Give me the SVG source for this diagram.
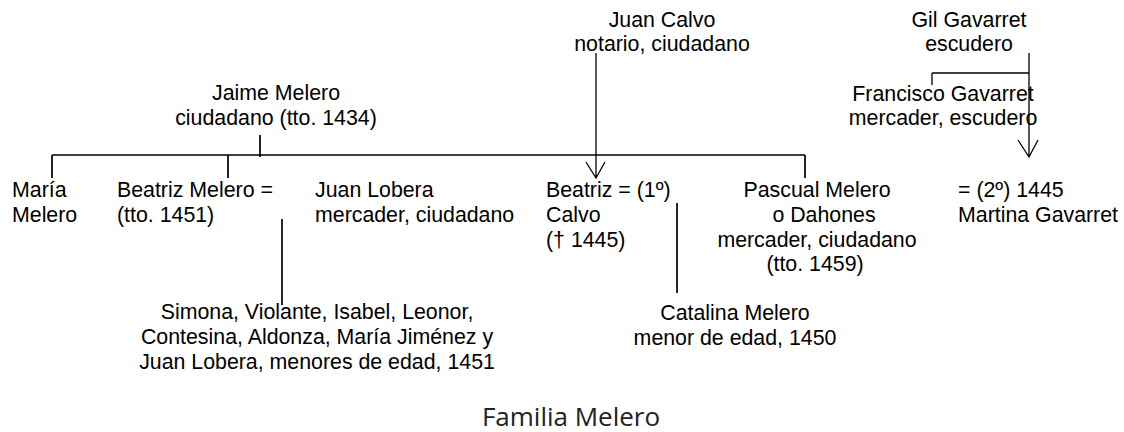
<svg xmlns="http://www.w3.org/2000/svg" width="1124" height="432" viewBox="0 0 1124 432">
<style>
text{font-family:"Liberation Sans",Arial,sans-serif;font-size:21.33px;fill:#000}
.c{text-anchor:middle}
.ln{stroke:#000;stroke-width:1.7;fill:none}
.ar{stroke:#000;stroke-width:1.3;fill:none}
.title{font-family:"Open Sans","Liberation Sans",sans-serif;font-size:26px;fill:#222}
</style>
<rect width="1124" height="432" fill="#fff"/>
<g id="connectors">
<path class="ln" d="M260 135V157M52 155H805M52 155V178M228 155V178M805 155V178"/>
<path class="ln" d="M282 219V305M677 203V293"/>
<path class="ar" d="M596 53V178M586 162L596 178L605 162"/>
<path class="ar" d="M1029 53V157M1018 140L1029 157L1038 140M932 73H1029M932 73V85"/>
</g>
<g id="jaime"><text class="c" x="276" y="100">Jaime Melero</text><text class="c" x="276" y="125">ciudadano (tto. 1434)</text></g>
<g id="juan-calvo"><text class="c" x="662" y="27">Juan Calvo</text><text class="c" x="662" y="51">notario, ciudadano</text></g>
<g id="gil"><text class="c" x="969" y="27">Gil Gavarret</text><text class="c" x="969" y="51">escudero</text></g>
<g id="francisco"><text class="c" x="943" y="101">Francisco Gavarret</text><text class="c" x="943" y="125">mercader, escudero</text></g>
<g id="maria"><text x="12" y="197">María</text><text x="12" y="222">Melero</text></g>
<g id="beatriz-melero"><text x="117" y="197">Beatriz Melero =</text><text x="117" y="222">(tto. 1451)</text></g>
<g id="juan-lobera"><text x="315" y="197">Juan Lobera</text><text x="315" y="222">mercader, ciudadano</text></g>
<g id="beatriz-calvo"><text x="546" y="197">Beatriz = (1º)</text><text x="546" y="222">Calvo</text><text x="546" y="247">(† 1445)</text></g>
<g id="pascual"><text class="c" x="817" y="197">Pascual Melero</text><text class="c" x="824" y="222">o Dahones</text><text class="c" x="817" y="247">mercader, ciudadano</text><text class="c" x="815" y="271">(tto. 1459)</text></g>
<g id="martina"><text x="958" y="197">= (2º) 1445</text><text x="958" y="222">Martina Gavarret</text></g>
<g id="hijos-lobera"><text class="c" x="317" y="319">Simona, Violante, Isabel, Leonor,</text><text class="c" x="317" y="344">Contesina, Aldonza, María Jiménez y</text><text class="c" x="317" y="369">Juan Lobera, menores de edad, 1451</text></g>
<g id="catalina"><text class="c" x="735" y="320">Catalina Melero</text><text class="c" x="735" y="345">menor de edad, 1450</text></g>
<text class="title c" x="571" y="426">Familia Melero</text>
</svg>
